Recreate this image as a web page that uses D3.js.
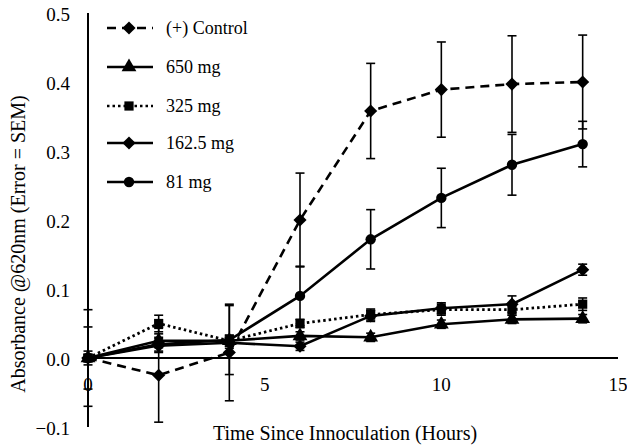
<!DOCTYPE html>
<html>
<head>
<meta charset="utf-8">
<script src="https://cdn.jsdelivr.net/npm/d3@7"></script>
<style>
  body { margin: 0; background: #fff; }
  svg { display: block; font-family: "Liberation Serif", "Times New Roman", serif; }
</style>
</head>
<body>
<div class="graph"></div>
<script>
const hours = [0, 2, 4, 6, 8, 10, 12, 14];

const control = [0, -0.025, 0.008, 0.2, 0.358, 0.389, 0.397, 0.4];
const controlErr = [0.07, 0.068, 0.07, 0.068, 0.069, 0.069, 0.07, 0.068];
const mg650 = [0, 0.025, 0.025, 0.032, 0.03, 0.049, 0.056, 0.057];
const mg650Err = [0.01, 0.01, 0.008, 0.006, 0.006, 0.006, 0.006, 0.006];
const mg325 = [0, 0.05, 0.025, 0.05, 0.063, 0.07, 0.07, 0.078];
const mg325Err = [0.005, 0.012, 0.008, 0.006, 0.008, 0.008, 0.008, 0.009];
const mg162 = [0, 0.018, 0.022, 0.017, 0.061, 0.072, 0.078, 0.128];
const mg162Err = [0.005, 0.01, 0.008, 0.006, 0.008, 0.008, 0.012, 0.008];
const mg81 = [0, 0.02, 0.026, 0.09, 0.172, 0.232, 0.28, 0.31];
const mg81Err = [0.045, 0.01, 0.05, 0.043, 0.043, 0.043, 0.044, 0.033];

const xTicks = [0, 5, 10, 15];
const yTicks = [-0.1, 0, 0.1, 0.2, 0.3, 0.4, 0.5];

const seriesList = [
    { name: '(+) Control', values: control, err: controlErr, dash: '9,6', marker: 'diamond' },
    { name: '650 mg', values: mg650, err: mg650Err, dash: null, marker: 'triangle' },
    { name: '325 mg', values: mg325, err: mg325Err, dash: '2.5,3', marker: 'square' },
    { name: '162.5 mg', values: mg162, err: mg162Err, dash: null, marker: 'diamond' },
    { name: '81 mg', values: mg81, err: mg81Err, dash: null, marker: 'circle' }
]

const svgDim = { w: 627, h: 445 }
const svg = d3.select('.graph')
    .append('svg')
    .attr('width', svgDim.w)
    .attr('height', svgDim.h);

const xScale = d3.scaleLinear().domain([0, 15]).range([88, 618]);
const yScale = d3.scaleLinear().domain([-0.1, 0.5]).range([427, 13]);

const symbolFor = (m) => {
    if (m === 'diamond') return d3.symbol().type(d3.symbolDiamond2).size(110)
    if (m === 'triangle') return d3.symbol().type(d3.symbolTriangle).size(95)
    if (m === 'square') return d3.symbol().type(d3.symbolSquare).size(85)
    return d3.symbol().type(d3.symbolCircle).size(85)
}

// axes
svg.append('line')
    .attr('x1', xScale(0)).attr('x2', xScale(0))
    .attr('y1', yScale(0.5)).attr('y2', yScale(-0.1))
    .attr('stroke', '#000').attr('stroke-width', 2);
svg.append('line')
    .attr('x1', xScale(0)).attr('x2', xScale(15))
    .attr('y1', yScale(0)).attr('y2', yScale(0))
    .attr('stroke', '#000').attr('stroke-width', 2);

svg.selectAll('.ylab')
    .data(yTicks)
    .enter()
    .append('text')
    .attr('class', 'ylab')
    .attr('x', 70)
    .attr('y', d => yScale(d) + 1)
    .attr('dy', '0.35em')
    .attr('text-anchor', 'end')
    .attr('font-size', 19)
    .text(d => d3.format('.1f')(d));

svg.selectAll('.xlab')
    .data(xTicks)
    .enter()
    .append('text')
    .attr('class', 'xlab')
    .attr('x', d => xScale(d))
    .attr('y', yScale(0) + 26)
    .attr('dy', '0.35em')
    .attr('text-anchor', 'middle')
    .attr('font-size', 19)
    .text(d => d);

svg.append('text')
    .attr('x', 345).attr('y', 433)
    .attr('dy', '0.35em')
    .attr('text-anchor', 'middle')
    .attr('font-size', 20)
    .text('Time Since Innoculation (Hours)');

svg.append('text')
    .attr('transform', 'translate(18,244) rotate(-90)')
    .attr('dy', '0.35em')
    .attr('text-anchor', 'middle')
    .attr('font-size', 20)
    .text('Absorbance @620nm (Error = SEM)');

// error bars
seriesList.forEach(s => {
    const g = svg.append('g');
    hours.forEach((h, i) => {
        const x = xScale(h), lo = yScale(s.values[i] - s.err[i]), hi = yScale(s.values[i] + s.err[i]);
        g.append('line').attr('x1', x).attr('x2', x).attr('y1', lo).attr('y2', hi)
            .attr('stroke', '#000').attr('stroke-width', 1.6);
        [lo, hi].forEach(yy => {
            g.append('line').attr('x1', x - 4.5).attr('x2', x + 4.5).attr('y1', yy).attr('y2', yy)
                .attr('stroke', '#000').attr('stroke-width', 1.6);
        })
    })
})

// lines + markers
const line = d3.line().x((d, i) => xScale(hours[i])).y(d => yScale(d));
seriesList.forEach(s => {
    svg.append('path')
        .attr('d', line(s.values))
        .attr('fill', 'none')
        .attr('stroke', '#000')
        .attr('stroke-width', s.dash === '2.5,3' ? 2.8 : 2.6)
        .attr('stroke-dasharray', s.dash);
    svg.selectAll(null)
        .data(s.values)
        .enter()
        .append('path')
        .attr('d', symbolFor(s.marker))
        .attr('transform', (d, i) => `translate(${xScale(hours[i])},${yScale(d)})`)
        .attr('fill', '#000');
})

// Legend:-
const legendY = [28, 67, 106, 143, 182];
seriesList.forEach((s, i) => {
    const g = svg.append('g').attr('transform', `translate(0,${legendY[i]})`);
    g.append('line')
        .attr('x1', 107).attr('x2', 153).attr('y1', 0).attr('y2', 0)
        .attr('stroke', '#000').attr('stroke-width', 2.6)
        .attr('stroke-dasharray', s.dash);
    g.append('path')
        .attr('d', symbolFor(s.marker)())
        .attr('transform', 'translate(129,0)')
        .attr('fill', '#000');
    g.append('text')
        .attr('x', 166).attr('y', 0).attr('dy', '0.35em')
        .attr('font-size', 18)
        .text(s.name);
})
</script>
</body>
</html>
